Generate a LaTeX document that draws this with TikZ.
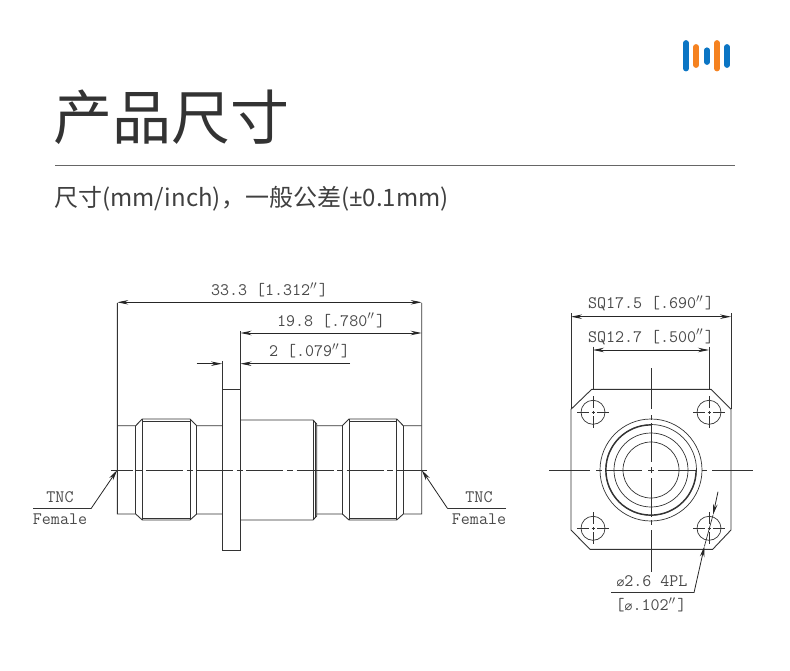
\documentclass[tikz,border=0pt]{standalone}
\usepackage{fontspec}
\usepackage{amsmath}
\usetikzlibrary{arrows.meta}
\usetikzlibrary{calc,positioning}
\newfontfamily\cjkfont{Noto Sans CJK SC}
\newfontfamily\latinfont{Noto Sans}
\newfontfamily\symfont{DejaVu Sans}
\definecolor{inkline}{HTML}{333333}
\definecolor{inktext}{HTML}{4A4A4A}
\definecolor{logoblue}{HTML}{0B75C4}
\definecolor{logoorange}{HTML}{F58220}
\newcommand{\dq}{\makebox[0.5em][l]{$^{\prime\prime}$}}
\newcommand{\dia}{{\symfont\fontsize{13}{13}\selectfont ⌀}}
\tikzset{
    outline/.style={draw=inkline, line width=0.9pt},
    thinline/.style={draw=inkline, line width=0.7pt},
    centerline/.style={draw=inkline, line width=0.7pt, dash pattern=on 37pt off 3.6pt on 6pt off 3.6pt, dash phase=15pt},
    dim/.style={draw=black!85, line width=0.9pt, {Stealth[length=11pt,width=4.5pt]}-{Stealth[length=11pt,width=4.5pt]}},
    leader/.style={draw=black!85, line width=0.8pt, -{Stealth[length=11pt,width=4.5pt]}},
    dimtext/.style={font=\ttfamily\fontsize{17.5}{17.5}\selectfont, text=inktext, inner sep=0pt},
    logobar/.style={line width=5.8pt, line cap=round}
}
\begin{document}
\begin{tikzpicture}[>=Stealth, x=1pt, y=-1pt]
    \useasboundingbox (0,0) rectangle (790,671);

    % logo
    \draw[logobar, logoblue] (686,43) -- (686,68.5);
    \draw[logobar, logoorange] (696.2,47) -- (696.2,65);
    \draw[logobar, logoblue] (707,50.3) -- (707,62);
    \draw[logobar, logoorange] (717,43) -- (717,68.5);
    \draw[logobar, logoblue] (727,47) -- (727,65);

    % titulo
    \node[font=\cjkfont\fontsize{59}{59}\selectfont, text=black!80, anchor=west, inner sep=0pt] (title) at (53,117.5) {产品尺寸};
    \draw[draw=black!60, line width=0.9pt] (55,165) -- (735,165);
    \node[font=\cjkfont\fontsize{24}{24}\selectfont, text=black!75, anchor=west, inner sep=0pt] (subtitle) at (54,198.5) {尺寸(mm/inch)，一般公差({\latinfont ±}0.1mm)};

    % vista lateral: contorno
    \draw[outline] (117.3,303) coordinate (extL) -- (117.3,514) -- (135.7,514) -- (142.3,520) -- (190,520) -- (196.7,514) -- (222,514);
    \draw[outline] (117.3,425.7) -- (135.7,425.7) -- (142.3,419) -- (190,419) -- (196.7,425.7) -- (222,425.7);
    \draw[outline] (142.3,421) -- (190,421) (142.3,518) -- (190,518);
    \draw[outline] (135.7,425.7) -- (135.7,514) (142.3,419) -- (142.3,520) (190,419) -- (190,520) (196.7,425.7) -- (196.7,514);
    % flange
    \draw[outline] (222,361) coordinate (flTL) -- (222,550) -- (240.5,550) -- (240.5,331) coordinate (flTR);
    \draw[outline] (222,389.3) -- (240.5,389.3);
    % corpo central
    \draw[outline] (240.5,420) -- (313,420) -- (316.7,424) -- (316.7,516) -- (313,520) -- (240.5,520);
    \draw[outline] (313.5,420) -- (313.5,520) (315,422) -- (315,518);
    % conector direito
    \draw[outline] (316.7,425.7) -- (342.3,425.7) -- (349,419) -- (396.7,419) -- (403.3,425.7) -- (421.7,425.7);
    \draw[outline] (316.7,514) -- (342.3,514) -- (349,520) -- (396.7,520) -- (403.3,514) -- (421.7,514) -- (421.7,303) coordinate (extR);
    \draw[outline] (349,421) -- (396.7,421) (349,518) -- (396.7,518);
    \draw[outline] (342.3,425.7) -- (342.3,514) (349,419) -- (349,520) (396.7,419) -- (396.7,520) (403.3,425.7) -- (403.3,514);
    % linha de centro
    \draw[centerline] (110.7,470) -- (426.7,470);

    % medidas
    \draw[dim] (extL |- 0,302.3) -- node[dimtext, above=5pt] (dimTotal) {33.3 [1.312\dq]} (extR |- 0,302.3);
    \draw[dim] (flTR |- 0,333) -- node[dimtext, above=5pt] (dimBody) {19.8 [.780\dq]} (extR |- 0,333);
    \draw[leader] (196.7,363.7) coordinate (tailL) -- (flTL |- 0,363.7);
    \draw[leader] (350,363.7) coordinate (tailR) -- node[dimtext, pos=0.37, above=5pt] (dimFlange) {2 [.079\dq]} (flTR |- 0,363.7);

    % etiquetas TNC
    \coordinate (tipL) at (117.3,470);
    \coordinate (tipR) at (421.7,470);
    \draw[thinline] (33,508.7) coordinate (startL) -- (91,508.7) coordinate (kneeL);
    \draw[leader] (kneeL) -- (tipL);
    \draw[thinline] (506,508.7) coordinate (startR) -- (447.7,508.7) coordinate (kneeR);
    \draw[leader] (kneeR) -- (tipR);
    \node[dimtext] (tncL) at (60,497.5) {TNC};
    \node[dimtext] (femaleL) at (60,519) {Female};
    \node[dimtext] (tncR) at (479,497.5) {TNC};
    \node[dimtext] (femaleR) at (479,519) {Female};

    % vista frontal: flange quadrada
    \draw[outline] (571,409.3) -- (591.7,389.3) -- (711,389.3) -- (731,409.3) -- (731,530) -- (712.7,549.3) -- (590,549.3) -- (571,530) -- cycle;
    \draw[thinline] (571,313) coordinate (sqL) -- (571,409.3);
    \draw[thinline] (731,313) coordinate (sqR) -- (731,409.3);
    \draw[thinline] (593,346.7) coordinate (holeL) -- (593,389.3);
    \draw[thinline] (709,346.7) coordinate (holeR) -- (709,389.3);

    % furos
    \foreach \hx/\hy in {593/412.3, 709/412.3, 593/528.3, 709/528.3} {
        \draw[thinline] (\hx,\hy) circle (12);
        \draw[thinline] (\hx-16,\hy) -- (\hx-4,\hy) (\hx-1.5,\hy) -- (\hx+1.5,\hy) (\hx+4,\hy) -- (\hx+16,\hy);
        \draw[thinline] (\hx,\hy-16) -- (\hx,\hy-4) (\hx,\hy-1.5) -- (\hx,\hy+1.5) (\hx,\hy+4) -- (\hx,\hy+16);
    }

    % circulos concentricos
    \coordinate (center) at (651,470);
    \foreach \rad in {51,45.5,37,28} {
        \draw[thinline] (center) circle (\rad);
    }
    \draw[outline, line width=1.2pt] (651,425) arc[start angle=-90, end angle=-360, radius=45];

    % eixos
    \draw[thinline] (549,470) -- (590,470) (596,470) -- (602,470) (605,470) -- (642,470) (648,470) -- (654,470) (658,470) -- (696,470) (702,470) -- (707,470) (712,470) -- (753,470);
    \draw[thinline] (651,368) -- (651,409) (651,415) -- (651,420) (651,423) -- (651,462) (651,467) -- (651,473) (651,478) -- (651,517) (651,520) -- (651,525) (651,530) -- (651,571.7);

    % medidas
    \draw[dim] (sqL |- 0,316.7) -- node[dimtext, above=5pt] (dimOuter) {SQ17.5 [.690\dq]} (sqR |- 0,316.7);
    \draw[dim] (holeL |- 0,350) -- node[dimtext, above=5pt] (dimInner) {SQ12.7 [.500\dq]} (holeR |- 0,350);

    % diametro do furo
    \draw[leader] (718,491.7) coordinate (arrowTop) -- (713,515) coordinate (tipTop);
    \draw[thinline] (611,592.7) coordinate (shelf) -- (694,592.7) coordinate (kneeD);
    \draw[leader] (kneeD) -- (704.5,546) coordinate (tipBottom);
    \draw[thinline] (tipBottom) -- (tipTop);
    \node[dimtext] (holeTop) at (652,581) {\dia 2.6 4PL};
    \node[dimtext] (holeBot) at (651,605) {[\dia .102\dq]};
\end{tikzpicture}
\end{document}
